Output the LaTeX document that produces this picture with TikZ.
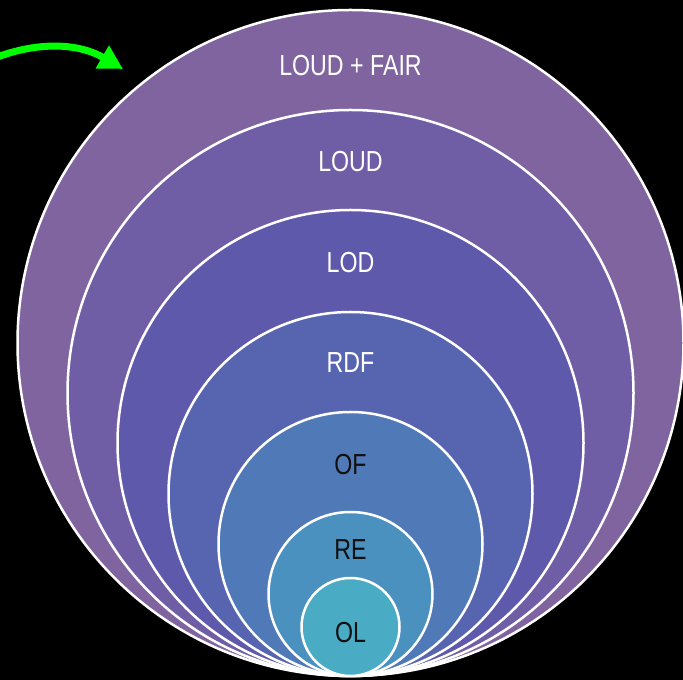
\documentclass[tikz,border=0pt]{standalone}
\usepackage{fontspec}
\usetikzlibrary{arrows.meta, positioning}
\newfontfamily\ringfont{Liberation Sans}[FakeStretch=0.8]
\definecolor{cbg}{HTML}{000000}
\definecolor{cring1}{HTML}{8064A0}
\definecolor{cring2}{HTML}{6F5EA5}
\definecolor{cring3}{HTML}{5F59AC}
\definecolor{cring4}{HTML}{5765B0}
\definecolor{cring5}{HTML}{5079B8}
\definecolor{cring6}{HTML}{4B91BF}
\definecolor{cring7}{HTML}{4AACC4}
\definecolor{carrow}{HTML}{00FF00}
\definecolor{cdark}{HTML}{101010}
\tikzset{
  ring/.style={circle, draw=white, fill=#1, line width=2.5pt, inner sep=0pt},
  ringlabel/.style={font=\ringfont\fontsize{29}{32}\selectfont, text=#1, inner sep=0pt},
  ringlabel/.default=white,
  pointer/.style={-{Triangle[length=24pt, width=25pt]}, draw=carrow, line width=7pt},
}
\begin{document}
\begin{tikzpicture}[x=1pt, y=1pt]
  \path[use as bounding box, fill=cbg] (0,0) rectangle (683,680);
  % nested rings, all touching at the bottom
  \foreach \r/\col/\txt/\ty/\tc [count=\i] in {333/cring1/{LOUD + FAIR}/66/white, 283/cring2/LOUD/162/white,
      233/cring3/LOD/263/white, 182/cring4/RDF/363/white, 132/cring5/OF/465/cdark, 82/cring6/RE/550/cdark, 49/cring7/OL/633/cdark} {
    \node[ring=\col, minimum size=2*\r] (ring\i) at (350.5, 4+\r) {};
    \node[ringlabel=\tc] (lbl\i) at (350.5, 680-\ty) {\txt};
  }
  % green pointer
  \coordinate (arrfrom) at (-8, 621);
  \coordinate (arrto) at (123, 611);
  \draw[pointer] (arrfrom) .. controls (40, 640) and (80, 636) .. (arrto);
\end{tikzpicture}
\end{document}
